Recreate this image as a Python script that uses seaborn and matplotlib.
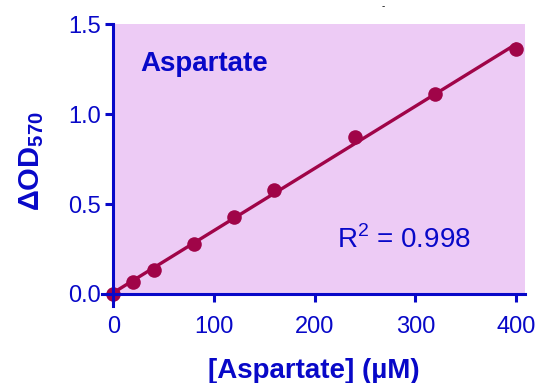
import numpy as np
import matplotlib
matplotlib.use('Agg')
import matplotlib.pyplot as plt
import seaborn as sns

# standard curve values
conc = [0, 20, 40, 80, 120, 160, 240, 320, 400]
od = [0.0, 0.065, 0.135, 0.275, 0.43, 0.58, 0.875, 1.11, 1.36]
xticks = [0, 100, 200, 300, 400]
yticks = [0.0, 0.5, 1.0, 1.5]

blue = '#0808c8'
maroon = '#a00448'
bg = '#edcbf5'

sns.set_style('ticks')
plt.rcParams['font.family'] = ['Liberation Sans', 'DejaVu Sans']
plt.rcParams['mathtext.fontset'] = 'custom'
plt.rcParams['mathtext.rm'] = 'Liberation Sans'
plt.rcParams['mathtext.bf'] = 'Liberation Sans:bold'

fig = plt.figure(figsize=(5.38, 3.83), dpi=100)
ax = fig.add_axes([0.19, 0.201, 0.786, 0.736])

# purple plot area only inside the positive quadrant
ax.fill_between([0, 409], 0, 1.5, color=bg, lw=0, zorder=0)

sns.regplot(x=conc, y=od, ci=None, ax=ax, color=maroon,
            scatter_kws={'s': 110, 'zorder': 4, 'linewidths': 0, 'alpha': 1},
            line_kws={'lw': 2.4, 'zorder': 3})

ax.set_xlim(-11, 409)
ax.set_ylim(-0.067, 1.5)
ax.set_xticks(xticks)
ax.set_yticks(yticks)
ax.set_xticklabels([str(t) for t in xticks])
ax.set_yticklabels(['%.1f' % t for t in yticks])

for s in ['top', 'right']:
    ax.spines[s].set_visible(False)
ax.spines['left'].set_position(('data', 0))
ax.spines['bottom'].set_position(('data', 0))
ax.spines['bottom'].set_bounds(-11, 409)
for s in ['left', 'bottom']:
    ax.spines[s].set_color(blue)
    ax.spines[s].set_linewidth(2.2)
    ax.spines[s].set_zorder(5)

ax.tick_params(colors=blue, labelcolor=blue, width=2.2, length=6,
               labelsize=17, direction='out')
ax.tick_params(axis='x', pad=10)
ax.tick_params(axis='y', pad=3)

ax.set_xlabel('[Aspartate] (µM)', color=blue, fontsize=20, fontweight='bold',
              labelpad=14)
fig.text(0.058, 0.58, r'ΔOD$_\mathbf{570}$', color=blue, fontsize=21,
         fontweight='bold', rotation=90, ha='center', va='center')

ax.text(27, 1.28, 'Aspartate', color=blue, fontsize=20, fontweight='bold',
        va='center')
ax.text(222, 0.30, r'R$^2$ = 0.998', color=blue, fontsize=20, va='center')

fig.text(0.712, 0.985, '-', color='black', fontsize=7, ha='center', va='center')

fig.savefig('out.png', dpi=100)
